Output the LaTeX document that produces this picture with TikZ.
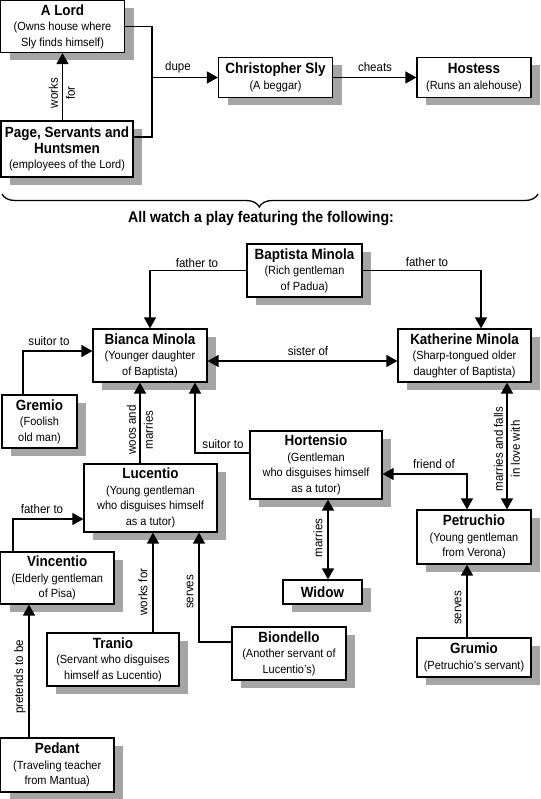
\documentclass[tikz,border=0pt]{standalone}
\usepackage{fontspec}
\setmainfont{Liberation Sans}[FakeStretch=0.93]
\newfontfamily\ttlfont{Liberation Sans}[FakeStretch=0.91]
\usetikzlibrary{arrows.meta,shadows,decorations.pathreplacing}
\definecolor{shadowgray}{RGB}{165,165,165}
\newcommand{\Ttl}[1]{{\ttlfont\fontsize{14.8}{15.5}\selectfont\bfseries #1}}
\tikzset{
  box/.style={draw, line width=1.2pt, fill=white, inner sep=0pt, align=center,
    general shadow={fill=shadowgray, shadow xshift=9pt, shadow yshift=-8pt},
    font=\fontsize{11.8}{15.5}\selectfont},
  conn/.style={line width=1.4pt},
  arr/.style={conn, -{Triangle[length=11pt,width=12pt]}},
  arrtwo/.style={conn, {Triangle[length=11pt,width=12pt]}-{Triangle[length=11pt,width=12pt]}},
  lbl/.style={font=\fontsize{12.4}{17}\selectfont, inner sep=0pt, align=center},
}
\begin{document}
\begin{tikzpicture}[x=1pt,y=-1pt]
\useasboundingbox (0,0) rectangle (540,799);
\fill[white] (0,0) rectangle (540,799);

% Top part
\node[box, minimum width=124pt, minimum height=52pt] (lord) at (62.5,26.5)
  {\Ttl{A Lord}\\(Owns house where\\Sly finds himself)};
\node[box, minimum width=132pt, minimum height=56pt] (page) at (67,149)
  {\Ttl{Page, Servants and}\\\Ttl{Huntsmen}\\(employees of the Lord)};
\node[box, minimum width=114pt, minimum height=40pt] (sly) at (275.5,77.5)
  {\Ttl{Christopher Sly}\\(A beggar)};
\node[box, minimum width=114pt, minimum height=40pt] (hostess) at (474,77.5)
  {\Ttl{Hostess}\\(Runs an alehouse)};

\coordinate (dj) at (152,77.5);
\draw[conn] (lord.east) -- (lord.east -| dj) -- ([yshift=12pt]page.east -| dj) -- ([yshift=12pt]page.east);
\draw[arr] (dj) -- (sly.west);
\node[lbl] (ldupe) at (178,67) {dupe};
\draw[arr] (sly.east) -- (hostess.west);
\node[lbl] (lcheats) at (375,67) {cheats};
\draw[arr] (page.north -| lord.south) -- (lord.south);
\node[lbl, rotate=90] (lworks) at (62,93) {works\\for};

\draw[line width=1.3pt, decorate, decoration={brace, amplitude=13pt, aspect=0.52}] (538,194) -- (2,194);
\node[inner sep=0pt, font=\ttlfont\fontsize{15.5}{16}\selectfont\bfseries] (watch) at (261,219)
  {All watch a play featuring the following:};

% Play
\node[box, minimum width=115pt, minimum height=53pt] (baptista) at (304.5,270.5)
  {\Ttl{Baptista Minola}\\(Rich gentleman\\of Padua)};
\node[box, minimum width=114pt, minimum height=53pt] (bianca) at (150,355.5)
  {\Ttl{Bianca Minola}\\(Younger daughter\\of Baptista)};
\node[box, minimum width=133pt, minimum height=53pt] (katherine) at (464.5,355.5)
  {\Ttl{Katherine Minola}\\(Sharp-tongued older\\daughter of Baptista)};
\node[box, minimum width=75pt, minimum height=53pt] (gremio) at (39.5,421.5)
  {\Ttl{Gremio}\\(Foolish\\old man)};
\node[box, minimum width=132pt, minimum height=68pt] (hortensio) at (316,465)
  {\Ttl{Hortensio}\\(Gentleman\\who disguises himself\\as a tutor)};
\node[box, minimum width=133pt, minimum height=68pt] (lucentio) at (150.5,498)
  {\Ttl{Lucentio}\\(Young gentleman\\who disguises himself\\as a tutor)};
\node[box, minimum width=114pt, minimum height=54pt] (petruchio) at (474,537)
  {\Ttl{Petruchio}\\(Young gentleman\\from Verona)};
\node[box, minimum width=79pt, minimum height=24pt] (widow) at (322.5,592)
  {\Ttl{Widow}};
\node[box, minimum width=113.5pt, minimum height=52pt] (vincentio) at (57.25,578)
  {\Ttl{Vincentio}\\(Elderly gentleman\\of Pisa)};
\node[box, minimum width=132pt, minimum height=53pt] (tranio) at (113,659.5)
  {\Ttl{Tranio}\\(Servant who disguises\\himself as Lucentio)};
\node[box, minimum width=114pt, minimum height=53pt] (biondello) at (289,653.5)
  {\Ttl{Biondello}\\(Another servant of\\Lucentio’s)};
\node[box, minimum width=114pt, minimum height=39pt] (grumio) at (474,657.5)
  {\Ttl{Grumio}\\(Petruchio’s servant)};
\node[box, minimum width=113.5pt, minimum height=54pt] (pedant) at (57.25,765)
  {\Ttl{Pedant}\\(Traveling teacher\\from Mantua)};

% connectors
\draw[arr] (baptista.west) -| (bianca.north);
\node[lbl] (lfa1) at (197,263) {father to};
\draw[arr] (baptista.east) -| ([xshift=16.5pt]katherine.north);
\node[lbl] (lfa2) at (427,262) {father to};
\draw[arrtwo] ([yshift=-5.5pt]bianca.east) -- ([yshift=-5.5pt]katherine.west);
\node[lbl] (lsis) at (308,351) {sister of};
\draw[arr] ([xshift=-16.5pt]gremio.north) |- ([yshift=4.5pt]bianca.west);
\node[lbl] (lsu1) at (49,341) {suitor to};
\draw[arr] ([xshift=-10.5pt]lucentio.north) -- ([xshift=-10.5pt]lucentio.north |- bianca.south);
\node[lbl, rotate=90] (lwoos) at (140,430) {woos and\\marries};
\draw[arr] ([yshift=12pt]hortensio.west) -| ([xshift=45pt]bianca.south);
\node[lbl] (lsu2) at (223,444) {suitor to};
\draw[arrtwo] ([yshift=-9pt]hortensio.east) -| ([xshift=-7pt]petruchio.north);
\node[lbl] (lfr) at (434,464) {friend of};
\draw[arrtwo] ([xshift=42.5pt]katherine.south) -- ([xshift=42.5pt]katherine.south |- petruchio.north);
\node[lbl, rotate=90] (lmar1) at (507,449) {marries and falls\\in love with};
\draw[arrtwo] ([xshift=12pt]hortensio.south) -- ([xshift=12pt]hortensio.south |- widow.north);
\node[lbl, rotate=90] (lmar2) at (318,538) {marries};
\draw[arr] ([xshift=-44.25pt]vincentio.north) |- ([yshift=-21pt]lucentio.west);
\node[lbl] (lfa3) at (42,509) {father to};
\draw[arr] ([xshift=40pt]tranio.north) -- ([xshift=40pt]tranio.north |- lucentio.south);
\node[lbl, rotate=90] (lwf) at (143,592) {works for};
\draw[arr] ([yshift=11.5pt]biondello.west) -| ([xshift=48.5pt]lucentio.south);
\node[lbl, rotate=90] (lse1) at (190,592) {serves};
\draw[arr] ([xshift=-7pt]grumio.north) -- ([xshift=-7pt]petruchio.south);
\node[lbl, rotate=90] (lse2) at (458,608) {serves};
\draw[arr] ([xshift=-28.25pt]pedant.north) -- ([xshift=-28.25pt]vincentio.south);
\node[lbl, rotate=90] (lpre) at (20,677) {pretends to be};
\end{tikzpicture}
\end{document}
